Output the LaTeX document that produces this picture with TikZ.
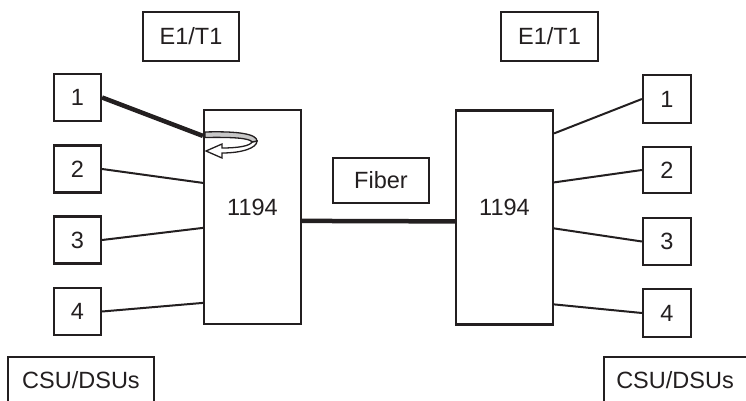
\documentclass[tikz,border=0pt]{standalone}
\usepackage{fontspec}
\setmainfont{Liberation Sans}
\definecolor{ink}{HTML}{231F20}
\begin{document}
\begin{tikzpicture}[x=1pt,y=-1pt,
  box/.style={draw=ink,line width=2.2pt,fill=white,inner sep=0pt,text=ink,
    font=\fontsize{23.5}{28}\selectfont},
  portbox/.style={box,minimum width=47pt,minimum height=47pt},
  mux/.style={box,minimum width=97pt,minimum height=214pt},
  link/.style={draw=ink,line width=2pt},
  thick link/.style={draw=ink,line width=4.5pt}]
\clip (0,0) rectangle (746,401);
\fill[white] (0,0) rectangle (746,401);
% top labels
\node[box,minimum width=96pt,minimum height=49pt] (le1) at (191,36.5) {E1/T1};
\node[box,minimum width=97pt,minimum height=49pt] (re1) at (549.5,36.5) {E1/T1};
% multiplexers
\node[mux,label={[yshift=10pt,text=ink,font=\fontsize{23.5}{28}\selectfont]center:1194}] (lm) at (252.5,217) {};
\node[mux,label={[yshift=10pt,text=ink,font=\fontsize{23.5}{28}\selectfont]center:1194}] (rm) at (504.5,217.5) {};
% fiber
\node[box,minimum width=96pt,minimum height=45pt] (fib) at (381,180.5) {Fiber};
% left ports
\node[portbox] (l1) at (77.5,97.5) {1};
\node[portbox] (l2) at (77.5,169) {2};
\node[portbox] (l3) at (77.5,240) {3};
\node[portbox] (l4) at (77.5,311.5) {4};
% right ports
\node[portbox,minimum width=48pt,minimum height=48pt] (r1) at (667,99) {1};
\node[portbox,minimum width=48pt,minimum height=46pt] (r2) at (667,170) {2};
\node[portbox,minimum width=48pt,minimum height=47pt] (r3) at (667,241.5) {3};
\node[portbox,minimum width=48pt,minimum height=48pt] (r4) at (667,313) {4};
% CSU/DSU boxes (cut by the frame)
\node[box,minimum width=146pt,minimum height=60pt,
  label={[yshift=7pt,text=ink,font=\fontsize{23.5}{28}\selectfont]center:CSU/DSUs}] (csul) at (81,387) {};
\node[box,minimum width=146pt,minimum height=60pt,
  label={[yshift=7pt,xshift=-2pt,text=ink,font=\fontsize{23.5}{28}\selectfont]center:CSU/DSUs}] (csur) at (677,387) {};
% connectors
\draw[thick link] (l1.east) -- ([yshift=-27pt]lm.north west);
\draw[link] (l2.east) -- ([yshift=-74pt]lm.north west);
\draw[link] (l3.east) -- ([yshift=-119pt]lm.north west);
\draw[link] (l4.east) -- ([yshift=-194pt]lm.north west);
\draw[link] (r1.west) -- ([yshift=-24pt]rm.north east);
\draw[link] (r2.west) -- ([yshift=-73pt]rm.north east);
\draw[link] (r3.west) -- ([yshift=-119pt]rm.north east);
\draw[link] (r4.west) -- ([yshift=-195pt]rm.north east);
\draw[thick link] ([yshift=-112pt]lm.north east) -- ([yshift=-112pt]rm.north west);
% rotation arrow
\filldraw[draw=ink,fill=white,line width=1.3pt,line join=miter]
  (252,142) .. controls (250,146) and (238,148) .. (222,148)
  -- (222,144) -- (206,151) -- (222,158) -- (222,153)
  .. controls (242,153) and (257,148) .. (257,141) -- cycle;
\filldraw[draw=ink,fill=black!22,line width=1.3pt]
  (205,132) .. controls (238,131) and (257,134) .. (257,141)
  -- (252,142) .. controls (250,138) and (232,137) .. (205,137.5) -- cycle;
\end{tikzpicture}
\end{document}
